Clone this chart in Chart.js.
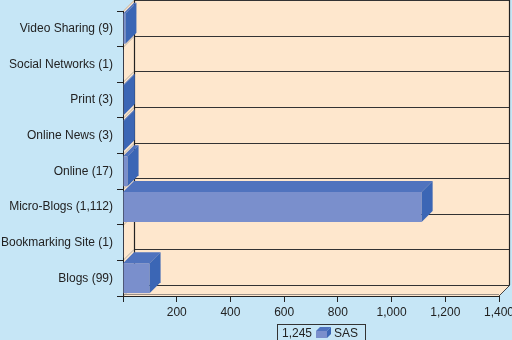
<!DOCTYPE html>
<html><head><meta charset="utf-8">
<script src="https://cdn.jsdelivr.net/npm/chart.js@4"></script>
<style>html,body{margin:0;padding:0;background:#c6e6f6;}#wrap{width:512px;height:340px;}</style>
</head><body><div id="wrap"><canvas id="c" width="512" height="340"></canvas></div>
<script>
const categories = ['Video Sharing','Social Networks','Print','Online News','Online','Micro-Blogs','Bookmarking Site','Blogs'];
const values = [9, 1, 3, 3, 17, 1112, 1, 99];
const seriesName = 'SAS';
const xTicks = [0, 200, 400, 600, 800, 1000, 1200, 1400];

const fmt = v => Number(v).toLocaleString('en-US');
const labels = categories.map((c, i) => c + ' (' + fmt(values[i]) + ')');
const total = values.reduce((a, b) => a + b, 0);

const BG = '#c6e6f6', WALL = '#fee7cd', FRONT = '#7a8fcc', TOP = '#5073be', SIDE = '#3b66b5', INK = '#222';
const D = 11;

function poly(ctx, pts, fill, stroke) {
  ctx.beginPath();
  ctx.moveTo(pts[0][0], pts[0][1]);
  for (let i = 1; i < pts.length; i++) ctx.lineTo(pts[i][0], pts[i][1]);
  ctx.closePath();
  if (fill) { ctx.fillStyle = fill; ctx.fill(); }
  if (stroke) { ctx.strokeStyle = stroke; ctx.stroke(); }
}
function line(ctx, x0, y0, x1, y1, c, w) {
  ctx.beginPath(); ctx.moveTo(x0, y0); ctx.lineTo(x1, y1);
  ctx.strokeStyle = c; ctx.lineWidth = w || 1; ctx.stroke();
}

const plugin3d = {
  id: 'plugin3d',
  beforeDraw(chart) {
    const ctx = chart.ctx;
    const {left: L, right: R, top: T, bottom: B} = chart.chartArea;
    const ys = chart.scales.y;
    ctx.save();
    ctx.fillStyle = BG; ctx.fillRect(0, 0, chart.width, chart.height);
    ctx.fillStyle = WALL; ctx.fillRect(L + D, T - D, R - L, B - T);
    poly(ctx, [[L, T], [L + D, T - D], [L + D, B - D], [L, B]], WALL);
    poly(ctx, [[L, B], [L + D, B - D], [R + D, B - D], [R, B]], WALL);
    for (let k = 0; k <= categories.length; k++) {
      const yb = Math.round(ys.getPixelForValue(k - 0.5)) + 0.5;
      if (k > 0 && k < categories.length) {
        line(ctx, L + D, yb - D, R + D, yb - D, '#333', 1.2);
      }
      line(ctx, L, yb, L + D, yb - D, '#b9b0a4', 1);
    }
    line(ctx, L + D, T - D + 0.5, R + D, T - D + 0.5, '#333', 1.2);
    line(ctx, L + D, B - D + 0.5, R + D, B - D + 0.5, '#333', 1.2);
    line(ctx, L + D + 0.5, T - D, L + D + 0.5, B - D, '#222', 1.2);
    line(ctx, R + D - 0.5, T - D, R + D - 0.5, B - D, '#222', 1.2);
    line(ctx, R, B, R + D, B - D, '#444', 1);
    line(ctx, L, B - 1.5, R, B - 1.5, '#9a9088', 1);
    ctx.restore();
  },
  afterDatasetsDraw(chart) {
    const ctx = chart.ctx;
    const meta = chart.getDatasetMeta(0);
    const x0 = chart.scales.x.getPixelForValue(0);
    ctx.save();
    meta.data.forEach(el => {
      const x1 = el.x;
      if (x1 - x0 < 0.5) return;
      const yt = el.y - el.height / 2, yb = el.y + el.height / 2;
      poly(ctx, [[x0, yt], [x0 + D, yt - D], [x1 + D, yt - D], [x1, yt]], TOP);
      poly(ctx, [[x1, yt], [x1 + D, yt - D], [x1 + D, yb - D], [x1, yb]], SIDE);
    });
    ctx.restore();
  },
  afterDraw(chart) {
    const ctx = chart.ctx;
    ctx.save();
    ctx.strokeStyle = '#333'; ctx.lineWidth = 1;
    ctx.strokeRect(277.5, 324.5, 88, 22);
    ctx.fillStyle = INK;
    ctx.font = '12px "Liberation Sans", Arial, sans-serif';
    ctx.textBaseline = 'middle';
    ctx.textAlign = 'left';
    ctx.fillText(fmt(total), 282, 334);
    const d = 4, ix = 316, iy = 331, iw = 11, ih = 7;
    ctx.fillStyle = FRONT; ctx.fillRect(ix, iy, iw, ih);
    poly(ctx, [[ix, iy], [ix + d, iy - d], [ix + iw + d, iy - d], [ix + iw, iy]], TOP);
    poly(ctx, [[ix + iw, iy], [ix + iw + d, iy - d], [ix + iw + d, iy + ih - d], [ix + iw, iy + ih]], SIDE);
    ctx.fillStyle = INK;
    ctx.fillText(seriesName, 334, 334);
    ctx.restore();
  }
};

Chart.defaults.font.family = '"Liberation Sans", Arial, sans-serif';
Chart.defaults.font.size = 12;
Chart.defaults.color = INK;

new Chart(document.getElementById('c'), {
  type: 'bar',
  data: {
    labels: labels,
    datasets: [{
      label: seriesName,
      data: values,
      backgroundColor: FRONT,
      borderWidth: 0,
      barPercentage: 0.84,
      categoryPercentage: 1
    }]
  },
  options: {
    indexAxis: 'y',
    responsive: false,
    animation: false,
    devicePixelRatio: 1,
    layout: {padding: {top: 11, right: 13, left: 0, bottom: 0}},
    plugins: {legend: {display: false}, tooltip: {enabled: false}},
    scales: {
      x: {
        type: 'linear',
        min: xTicks[0], max: xTicks[xTicks.length - 1],
        afterBuildTicks(s) { s.ticks = xTicks.map(v => ({value: v})); },
        ticks: {padding: 3, color: INK, callback: v => v === 0 ? '' : fmt(v), maxRotation: 0, autoSkip: false},
        grid: {drawOnChartArea: false, tickLength: 6, color: '#222', lineWidth: 1},
        border: {display: true, color: '#222', width: 1},
        afterFit(s) { s.height = 44; s.paddingLeft = 0; s.paddingRight = 0; }
      },
      y: {
        type: 'category',
        offset: true,
        ticks: {padding: 4, color: INK, autoSkip: false},
        grid: {offset: true, drawOnChartArea: false, tickLength: 6, color: '#222', lineWidth: 1},
        border: {display: true, color: '#222', width: 1},
        afterFit(s) { s.width = 123; s.paddingTop = 0; s.paddingBottom = 0; }
      }
    }
  },
  plugins: [plugin3d]
});
</script>
</body></html>
